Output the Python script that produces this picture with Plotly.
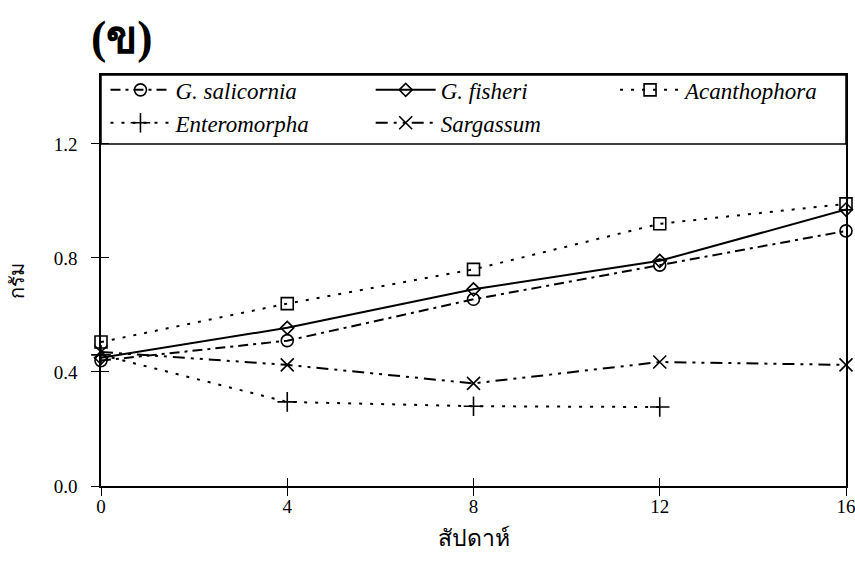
import plotly.graph_objects as go

weeks = [0, 4, 8, 12, 16]
weeks_entero = [0, 4, 8, 12]

g_salicornia = [0.44, 0.51, 0.655, 0.775, 0.895]
g_fisheri = [0.45, 0.555, 0.69, 0.79, 0.97]
acanthophora = [0.505, 0.64, 0.76, 0.92, 0.99]
enteromorpha = [0.46, 0.295, 0.28, 0.277]
sargassum = [0.47, 0.425, 0.36, 0.435, 0.425]

series_names = ["G. salicornia", "G. fisheri", "Acanthophora", "Enteromorpha", "Sargassum"]
x_ticks = [0, 4, 8, 12, 16]
y_ticks = [0.0, 0.4, 0.8, 1.2]

SERIF = "Liberation Serif"

fig = go.Figure()

def add(x, y, name, dash, symbol, msize, legend):
    fig.add_trace(go.Scatter(
        x=x, y=y, name="<i>" + name + "</i>", mode="lines+markers",
        line=dict(color="black", width=2, dash=dash),
        marker=dict(symbol=symbol, size=msize, color="black",
                    line=dict(color="black", width=1.6)),
        legend=legend, cliponaxis=False,
    ))

add(weeks, g_salicornia, series_names[0], "10px,5px,3px,5px", "circle-open", 12, "legend")
add(weeks, g_fisheri, series_names[1], "solid", "diamond-open", 10, "legend2")
add(weeks, acanthophora, series_names[2], "3px,8px", "square-open", 12, "legend3")
add(weeks_entero, enteromorpha, series_names[3], "3px,8px", "cross-thin-open", 14, "legend")
add(weeks, sargassum, series_names[4], "12px,6px,3px,6px,3px,6px", "x-thin-open", 13, "legend2")

# dummy trace for inside tick marks (crossing ticks)
fig.add_trace(go.Scatter(x=[None], y=[None], xaxis="x2", yaxis="y2",
                         showlegend=False, hoverinfo="skip"))

def leg(x):
    return dict(
        orientation="v", x=x, xanchor="left", y=1.016, yanchor="top",
        itemwidth=60, font=dict(family=SERIF, size=23, color="black"),
        bgcolor="rgba(0,0,0,0)", borderwidth=0, tracegroupgap=0,
    )

fig.update_layout(
    width=855, height=563,
    margin=dict(l=101, r=9, t=75, b=77),
    plot_bgcolor="white", paper_bgcolor="white",
    font=dict(family=SERIF, color="black", size=16),
    showlegend=True,
    legend=leg(0.006),
    legend2=leg(0.362),
    legend3=leg(0.69),
    xaxis=dict(
        range=[0, 16], tickvals=x_ticks, ticktext=[str(v) for v in x_ticks],
        showgrid=False, zeroline=False, showline=True, linecolor="black", linewidth=1.5,
        mirror=True, ticks="outside", ticklen=8, tickwidth=1.2, tickcolor="black",
        tickfont=dict(family=SERIF, size=19), automargin=False, ticklabelstandoff=-6,
        ticklabeloverflow="allow",
        title=dict(text="สัปดาห์", font=dict(size=23), standoff=14),
    ),
    yaxis=dict(
        range=[0, 1.442], tickvals=y_ticks, ticktext=["%.1f" % v for v in y_ticks],
        showgrid=False, zeroline=False, showline=True, linecolor="black", linewidth=1.5,
        mirror=True, ticks="outside", ticklen=8, tickwidth=1.2, tickcolor="black",
        tickfont=dict(family=SERIF, size=19), automargin=False, ticklabelstandoff=10,
        title=dict(text="กรัม", font=dict(size=20), standoff=24),
    ),
    xaxis2=dict(range=[0, 16], overlaying="x", tickvals=x_ticks, showticklabels=False,
                ticks="inside", ticklen=8, tickwidth=1.2, tickcolor="black",
                showgrid=False, zeroline=False, showline=False, side="bottom"),
    yaxis2=dict(range=[0, 1.442], overlaying="y", tickvals=y_ticks, showticklabels=False,
                ticks="inside", ticklen=8, tickwidth=1.2, tickcolor="black",
                showgrid=False, zeroline=False, showline=False, side="left"),
    shapes=[dict(type="rect", xref="paper", yref="y", x0=0, x1=1, y0=1.2, y1=1.442,
                 line=dict(color="black", width=1.5), fillcolor="rgba(0,0,0,0)")],
    annotations=[dict(text="<b>(ข)</b>", xref="paper", yref="paper",
                      x=-0.016, y=1.0, yshift=10, xanchor="left", yanchor="bottom",
                      showarrow=False, font=dict(family=SERIF, size=46))],
)

fig.write_html("out.html", config={"displayModeBar": False},
               post_script="document.body.style.margin='0';")
